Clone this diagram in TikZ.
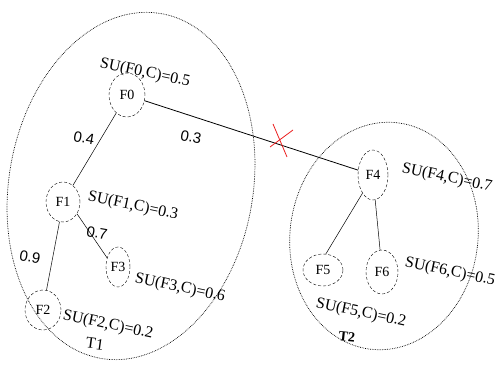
\documentclass[tikz,border=0pt]{standalone}
\usepackage{fontspec}
\setmainfont{Liberation Serif}
\newfontfamily\weightfont{Liberation Sans}
\usetikzlibrary{shapes.geometric}
\definecolor{cutcolor}{RGB}{235,30,30}

\begin{document}
\begin{tikzpicture}[
    x=1pt, y=1pt,
    feat/.style={ellipse, draw, densely dashed, inner sep=0pt, font=\fontsize{14}{16}\selectfont},
    group/.style={ellipse, draw, densely dotted, line width=0.7pt, inner sep=0pt},
    su/.style={font=\fontsize{16}{18}\selectfont, rotate=-12, inner sep=0pt},
    weight/.style={font=\weightfont\fontsize{15}{17}\selectfont, rotate=-10, inner sep=0pt},
    link/.style={line width=0.5pt}
]
    \useasboundingbox (0,0) rectangle (498,369);

    % Clusters
    \node[group, minimum width=244pt, minimum height=350pt, rotate=-10] (t1) at (131,183) {};
    \node[group, minimum width=188pt, minimum height=228pt, rotate=-7] (t2) at (384,133) {};

    % Features of T1
    \node[feat, minimum width=36pt, minimum height=44pt] (f0) at (127,274) {F0};
    \node[feat, minimum width=34pt, minimum height=40pt] (f1) at (63,167) {F1};
    \node[feat, minimum width=36pt, minimum height=40pt] (f2) at (43,59) {F2};
    \node[feat, minimum width=24pt, minimum height=40pt] (f3) at (118,102) {F3};

    % Features of T2
    \node[feat, minimum width=30pt, minimum height=50pt] (f4) at (373,194) {F4};
    \node[feat, minimum width=40pt, minimum height=32pt] (f5) at (323,99) {F5};
    \node[feat, minimum width=32pt, minimum height=44pt] (f6) at (382,97) {F6};

    % Links
    \draw[link] (f0) -- (f1);
    \draw[link] (f1.-100) -- (f2.80);
    \draw[link] (f1.-40) -- (f3.140);
    \draw[thick] (f0) -- (f4);
    \draw[link] (f4.-120) -- (f5.80);
    \draw[link] (f4.-85) -- (f6.95);

    % Weights
    \node[weight] (w01) at (84,231) {0.4};
    \node[weight] (w04) at (191,232) {0.3};
    \node[weight] (w13) at (97,136) {0.7};
    \node[weight] (w12) at (30,112) {0.9};

    % Relevance to the class
    \node[su] (su0) at (145,296) {SU(F0,C)=0.5};
    \node[su] (su1) at (133,163) {SU(F1,C)=0.3};
    \node[su] (su3) at (180,81) {SU(F3,C)=0.6};
    \node[su] (su2) at (108,44) {SU(F2,C)=0.2};
    \node[su] (su4) at (447,191) {SU(F4,C)=0.7};
    \node[su] (su6) at (450,97) {SU(F6,C)=0.5};
    \node[su] (su5) at (361,56) {SU(F5,C)=0.2};

    % Cluster names
    \node[font=\fontsize{16}{18}\selectfont, rotate=-8] (n1) at (95,25) {T1};
    \node[font=\bfseries\fontsize{14}{16}\selectfont, rotate=-6] (n2) at (347,32) {T2};

    % Removed link
    \coordinate (cut) at (280,227);
    \draw[cutcolor, thick] (cut) ++(-7,18) -- ++(14,-33);
    \draw[cutcolor, thick] (cut) ++(-10,-5) -- ++(23,17);
\end{tikzpicture}
\end{document}
